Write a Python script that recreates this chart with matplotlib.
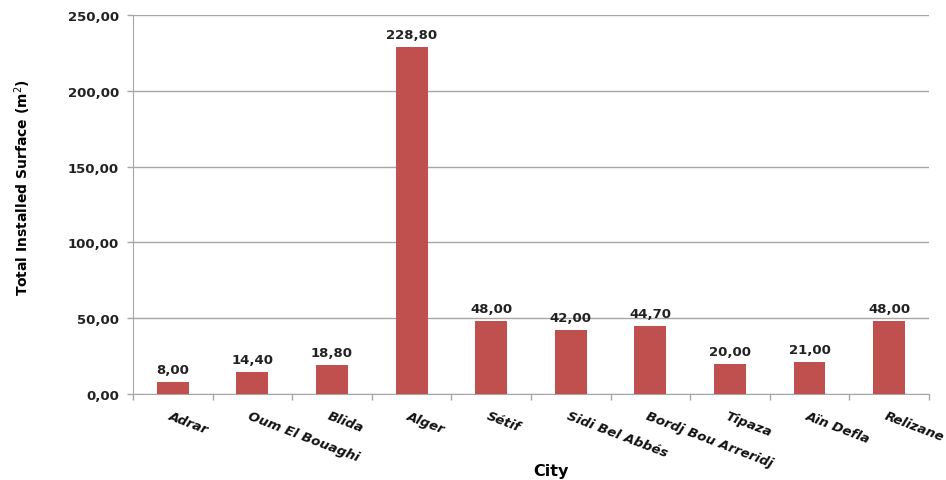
import numpy as np
import matplotlib.pyplot as plt

cities = ['Adrar', 'Oum El Bouaghi', 'Blida', 'Alger', 'Sétif', 'Sidi Bel Abbés',
          'Bordj Bou Arreridj', 'Tipaza', 'Aïn Defla', 'Relizane']
surface = [8.00, 14.40, 18.80, 228.80, 48.00, 42.00, 44.70, 20.00, 21.00, 48.00]
yticks = [0, 50, 100, 150, 200, 250]

def fr(v):
    return f'{v:.2f}'.replace('.', ',')

fig = plt.figure(figsize=(9.46, 4.81), dpi=100)
ax = fig.add_axes([0.1406, 0.1788, 0.8414, 0.7879])

x = np.arange(len(cities))
ax.bar(x, surface, width=0.4, color='#C0504D', zorder=3)

ax.set_xlim(-0.5, len(cities) - 0.5)
ax.set_ylim(0, 250)
ax.set_yticks(yticks)
ax.set_yticklabels([fr(v) for v in yticks], fontsize=9.5, fontweight='bold', color='#222222')
ax.yaxis.grid(True, color='#A6A6A6', linewidth=1, zorder=0)

# category boundary ticks, labels drawn separately
ax.set_xticks(np.arange(len(cities) + 1) - 0.5)
ax.set_xticklabels([])
ax.tick_params(axis='both', color='#A6A6A6', length=4, width=1)
ax.tick_params(axis='y', pad=6)

for s in ['top', 'right']:
    ax.spines[s].set_visible(False)
for s in ['left', 'bottom']:
    ax.spines[s].set_color('#A6A6A6')

for i, (c, v) in enumerate(zip(cities, surface)):
    ax.text(i, v + 4, fr(v), ha='center', va='bottom', fontsize=9.5,
            fontweight='bold', color='#222222')
    ax.text(i - 0.02, -10, c, ha='left', va='top', rotation=-21, rotation_mode='anchor',
            fontsize=9.5, fontweight='bold', fontstyle='italic', color='#111111',
            transform=ax.transData, clip_on=False)

fig.text(0.582, 0.005, 'City', ha='center', va='bottom', fontsize=11.5, fontweight='bold')
fig.text(0.024, 0.61, 'Total Installed Surface (m$^2$)', rotation=90, ha='center',
         va='center', fontsize=10, fontweight='semibold')

fig.savefig('out.png', dpi=100)
